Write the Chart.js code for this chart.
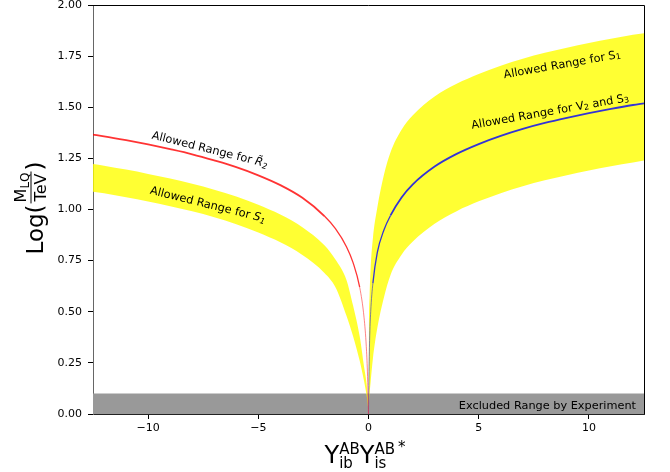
<!DOCTYPE html>
<html>
<head>
<meta charset="utf-8">
<script src="https://cdn.jsdelivr.net/npm/chart.js@4.4.1/dist/chart.umd.min.js"></script>
<style>
  html, body { margin: 0; padding: 0; background: #fff; }
</style>
</head>
<body>
<canvas id="chart" width="670" height="472"></canvas>
<script>
// Valori (x = Y_ib Y_is*, y = Log(M/TeV))
const xLeft = [-12.5, -12, -11, -10, -9, -8, -7, -6, -5, -4, -3, -2, -1.5, -1, -0.7, -0.4, -0.2, -0.1, -0.05, -0.02, 0];
const r2Line      = [1.366, 1.358, 1.339, 1.318, 1.295, 1.27, 1.24, 1.207, 1.167, 1.119, 1.057, 0.968, 0.906, 0.818, 0.74, 0.62, 0.47, 0.33, 0.21, 0.09, 0];
const s1LeftUpper = [1.222, 1.214, 1.195, 1.174, 1.151, 1.126, 1.097, 1.063, 1.023, 0.975, 0.913, 0.825, 0.755, 0.655, 0.53, 0.38, 0.23, 0.16, 0.11, 0.06, 0];
const s1LeftLower = [1.087, 1.079, 1.06, 1.039, 1.016, 0.991, 0.962, 0.928, 0.888, 0.84, 0.778, 0.69, 0.62, 0.48, 0.38, 0.26, 0.16, 0.1, 0.065, 0.03, 0];

const xRight = [0, 0.02, 0.05, 0.1, 0.2, 0.4, 0.7, 1, 1.5, 2, 3, 4, 5, 6, 7, 8, 9, 10, 11, 12, 12.5];
const v2s3Line     = [0, 0.18, 0.36, 0.5, 0.64, 0.79, 0.9, 0.971, 1.059, 1.122, 1.21, 1.272, 1.32, 1.36, 1.394, 1.423, 1.448, 1.471, 1.492, 1.511, 1.519];
const s1RightUpper = [0, 0.42, 0.58, 0.72, 0.86, 1.01, 1.17, 1.28, 1.39, 1.46, 1.553, 1.615, 1.663, 1.703, 1.737, 1.766, 1.791, 1.814, 1.835, 1.854, 1.862];
const s1RightLower = [0, 0.05, 0.1, 0.16, 0.27, 0.42, 0.57, 0.68, 0.779, 0.842, 0.93, 0.992, 1.04, 1.08, 1.114, 1.143, 1.168, 1.191, 1.212, 1.23, 1.239];

const excludedX = [-12.5, 12.5];
const excludedY = [0.1, 0.1];

const xTicks = [-10, -5, 0, 5, 10];
const yTicks = [0, 0.25, 0.5, 0.75, 1, 1.25, 1.5, 1.75, 2];

const FONT = '"DejaVu Sans"';
const YELLOW = 'rgba(255, 255, 0, 0.8)';

function toPoints(xs, ys) {
  return xs.map((x, i) => ({ x: x, y: ys[i] }));
}

// la linea diventa più sottile e chiara quando scende verso lo zero
function fadeSegment(color, faded, fadeBelow, thinBelow) {
  const avg = c => (c.p0.parsed.y + c.p1.parsed.y) / 2;
  return {
    borderColor: c => avg(c) < fadeBelow ? faded : color,
    borderWidth: c => avg(c) < fadeBelow ? 1 : (avg(c) < thinBelow ? 1.3 : 1.8)
  };
}

function textWidth(ctx, t, font) {
  ctx.font = font;
  return ctx.measureText(t).width;
}

function drawXTitle(ctx, cx, baseY) {
  const big = '24px ' + FONT;
  const small = '15px ' + FONT;
  const pieces = [['Y', 'AB', 'ib'], ['Y', 'AB', 'is']];
  const wY = textWidth(ctx, 'Y', big);
  const ws = pieces.map(p => Math.max(textWidth(ctx, p[1], small), textWidth(ctx, p[2], small)));
  const wStar = textWidth(ctx, '*', small);
  const total = 2 * wY + ws[0] + ws[1] + wStar + 3;
  let x = cx - total / 2;
  ctx.fillStyle = '#000';
  ctx.textAlign = 'left';
  ctx.textBaseline = 'alphabetic';
  pieces.forEach((p, i) => {
    ctx.font = big;
    ctx.fillText('Y', x, baseY);
    x += wY;
    ctx.font = small;
    ctx.fillText(p[1], x, baseY - 9);
    ctx.fillText(p[2], x, baseY + 5);
    x += ws[i];
  });
  ctx.fillText('*', x + 3, baseY - 11);
}

function drawYTitle(ctx, baseX, cy) {
  ctx.save();
  ctx.translate(baseX, cy);
  ctx.rotate(-Math.PI / 2);
  const big = '23px ' + FONT;
  const mid = '16px ' + FONT;
  const small = '12px ' + FONT;
  const wLog = textWidth(ctx, 'Log(', big);
  const wM = textWidth(ctx, 'M', mid);
  const wLQ = textWidth(ctx, 'LQ', small);
  const wNum = wM + wLQ;
  const wDen = textWidth(ctx, 'TeV', mid);
  const wFrac = Math.max(wNum, wDen) + 4;
  const wClose = textWidth(ctx, ')', big);
  let x = -(wLog + wFrac + wClose) / 2;
  ctx.fillStyle = '#000';
  ctx.textAlign = 'left';
  ctx.textBaseline = 'alphabetic';
  ctx.font = big;
  ctx.fillText('Log(', x, 0);
  x += wLog;
  const numX = x + (wFrac - wNum) / 2;
  ctx.font = mid;
  ctx.fillText('M', numX, -17);
  ctx.font = small;
  ctx.fillText('LQ', numX + wM, -14);
  ctx.font = mid;
  ctx.fillText('TeV', x + (wFrac - wDen) / 2, 3);
  ctx.fillRect(x + 1, -12.5, wFrac - 2, 1);
  x += wFrac;
  ctx.font = big;
  ctx.fillText(')', x, 0);
  ctx.restore();
}

function drawRotated(ctx, parts, cx, cy, deg) {
  ctx.save();
  ctx.translate(cx, cy);
  ctx.rotate(deg * Math.PI / 180);
  let total = 0;
  parts.forEach(p => { p.w = textWidth(ctx, p.t, p.font); total += p.w; });
  let x = -total / 2;
  ctx.fillStyle = '#000';
  ctx.textAlign = 'left';
  ctx.textBaseline = 'alphabetic';
  parts.forEach(p => {
    ctx.font = p.font;
    ctx.fillText(p.t, x, 4 + (p.dy || 0));
    x += p.w;
  });
  ctx.restore();
}

const normal = '11.3px ' + FONT;
const italic = 'italic 11.3px ' + FONT;
const subFont = '8px ' + FONT;
const subItalic = 'italic 8px ' + FONT;

const decorPlugin = {
  id: 'decor',
  afterDatasetsDraw(chart) {
    const ctx = chart.ctx;
    const a = chart.chartArea;
    ctx.save();
    ctx.fillStyle = '#000';
    ctx.font = normal;
    ctx.textAlign = 'right';
    ctx.textBaseline = 'alphabetic';
    ctx.fillText('Excluded Range by Experiment', a.right - 8, 408.5);

    drawRotated(ctx, [
      { t: 'Allowed Range for ', font: normal },
      { t: 'R\u0303', font: italic },
      { t: '2', font: subItalic, dy: 2 }
    ], 210, 149, 14);
    drawRotated(ctx, [
      { t: 'Allowed Range for ', font: normal },
      { t: 'S', font: italic },
      { t: '1', font: subItalic, dy: 2 }
    ], 208, 204, 14);
    drawRotated(ctx, [
      { t: 'Allowed Range for S', font: normal },
      { t: '1', font: subFont, dy: 1 }
    ], 562, 64, -10);
    drawRotated(ctx, [
      { t: 'Allowed Range for V', font: normal },
      { t: '2', font: subFont, dy: 1 },
      { t: ' and S', font: normal },
      { t: '3', font: subFont, dy: 1 }
    ], 550, 111, -10);
    ctx.restore();
  },
  afterDraw(chart) {
    const ctx = chart.ctx;
    const a = chart.chartArea;
    ctx.save();
    ctx.strokeStyle = '#000';
    ctx.lineWidth = 1;
    ctx.beginPath();
    ctx.moveTo(a.left, a.top + 0.5);
    ctx.lineTo(a.right + 0.5, a.top + 0.5);
    ctx.lineTo(a.right + 0.5, a.bottom);
    ctx.stroke();
    drawXTitle(ctx, 365, 463);
    drawYTitle(ctx, 43, 208);
    ctx.restore();
  }
};

const ctx = document.getElementById('chart').getContext('2d');
new Chart(ctx, {
  type: 'scatter',
  data: {
    datasets: [
      {
        data: toPoints(xLeft, r2Line),
        showLine: true,
        borderColor: 'rgba(255, 0, 0, 0.8)',
        borderWidth: 1.8,
        segment: fadeSegment('rgba(255, 0, 0, 0.8)', 'rgba(255, 50, 50, 0.6)', 0.55, 0.95),
        fill: false
      },
      {
        data: toPoints(xRight, v2s3Line),
        showLine: true,
        borderColor: 'rgba(0, 0, 255, 0.8)',
        borderWidth: 1.8,
        segment: fadeSegment('rgba(0, 0, 255, 0.8)', 'rgba(60, 60, 190, 0.65)', 0.7, 1.0),
        fill: false
      },
      {
        data: toPoints(xLeft, s1LeftUpper),
        showLine: true,
        borderWidth: 0,
        backgroundColor: YELLOW,
        fill: '+1'
      },
      {
        data: toPoints(xLeft, s1LeftLower),
        showLine: true,
        borderWidth: 0,
        fill: false
      },
      {
        data: toPoints(xRight, s1RightUpper),
        showLine: true,
        borderWidth: 0,
        backgroundColor: YELLOW,
        fill: '+1'
      },
      {
        data: toPoints(xRight, s1RightLower),
        showLine: true,
        borderWidth: 0,
        fill: false
      },
      {
        data: toPoints(excludedX, excludedY),
        showLine: true,
        borderWidth: 0,
        backgroundColor: '#999999',
        fill: 'origin'
      }
    ]
  },
  options: {
    responsive: false,
    animation: false,
    events: [],
    layout: { padding: { top: 5, right: 26, left: 0, bottom: 0 } },
    elements: {
      point: { radius: 0, hoverRadius: 0 },
      line: { cubicInterpolationMode: 'monotone' }
    },
    plugins: {
      legend: { display: false },
      tooltip: { enabled: false }
    },
    scales: {
      x: {
        type: 'linear',
        min: -12.5,
        max: 12.5,
        afterBuildTicks: s => { s.ticks = xTicks.map(v => ({ value: v })); },
        afterFit: s => { s.height = 58; s.paddingLeft = 0; s.paddingRight = 0; },
        grid: { drawOnChartArea: false, tickLength: 5, tickColor: '#000' },
        border: { color: '#222', width: 1 },
        ticks: {
          color: '#000',
          padding: 3,
          maxRotation: 0,
          font: { family: 'DejaVu Sans', size: 11 },
          callback: v => v < 0 ? '\u2212' + Math.abs(v) : String(v)
        }
      },
      y: {
        min: 0,
        max: 2,
        afterBuildTicks: s => { s.ticks = yTicks.map(v => ({ value: v })); },
        afterFit: s => { s.width = 93; s.paddingTop = 0; s.paddingBottom = 0; },
        grid: { drawOnChartArea: false, tickLength: 5, tickColor: '#000' },
        border: { color: '#666', width: 1 },
        ticks: {
          color: '#000',
          padding: 6,
          font: { family: 'DejaVu Sans', size: 11 },
          callback: v => Number(v).toFixed(2)
        }
      }
    }
  },
  plugins: [decorPlugin]
});
</script>
</body>
</html>
